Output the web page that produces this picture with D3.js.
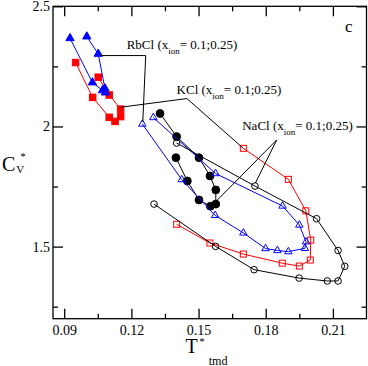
<!DOCTYPE html>
<html>
<head>
<meta charset="utf-8">
<script src="https://cdn.jsdelivr.net/npm/d3@7"></script>
<style>
  body { margin: 0; background: #fff; }
  text { font-family: "Liberation Serif", "Times New Roman", serif; }
</style>
</head>
<body>
<div id="chart"></div>
<script>
// tick values
var xMajor = [0.09, 0.12, 0.15, 0.18, 0.21];
var xMinor = [0.105, 0.135, 0.165, 0.195];
var yMajor = [1.5, 2.0, 2.5];
var yMinor = [1.25, 1.75, 2.25];

// RbCl, filled blue triangles
var rbclFilledT  = [0.0926, 0.1026, 0.1071, 0.1084, 0.1082, 0.1052, 0.1001];
var rbclFilledCv = [2.367, 2.183, 2.150, 2.141, 2.158, 2.302, 2.374];
// KCl, filled red squares
var kclFilledT  = [0.1052, 0.1101, 0.1152, 0.1152, 0.1127, 0.1101, 0.1027, 0.0951];
var kclFilledCv = [2.205, 2.131, 2.072, 2.041, 2.021, 2.038, 2.121, 2.266];
// NaCl, filled black circles
var naclFilledT  = [0.1399, 0.1450, 0.1502, 0.1553, 0.1577, 0.1577, 0.1551, 0.1502, 0.1402, 0.1328];
var naclFilledCv = [1.870, 1.773, 1.694, 1.668, 1.677, 1.736, 1.794, 1.870, 1.958, 2.054];
// RbCl, open blue triangles
var rbclOpenT  = [0.1249, 0.1425, 0.1574, 0.1700, 0.1799, 0.1852, 0.1901, 0.1975, 0.1980, 0.1950, 0.1875, 0.1576, 0.1298];
var rbclOpenCv = [2.010, 1.779, 1.630, 1.557, 1.492, 1.484, 1.479, 1.493, 1.520, 1.590, 1.669, 1.804, 2.037];
// KCl, open red squares
var kclOpenT  = [0.1402, 0.1551, 0.1700, 0.1874, 0.1950, 0.1999, 0.2001, 0.1979, 0.1901, 0.1700];
var kclOpenCv = [1.593, 1.515, 1.469, 1.431, 1.419, 1.444, 1.527, 1.649, 1.780, 1.909];
// NaCl, open black circles
var naclOpenT  = [0.1301, 0.1576, 0.1748, 0.1949, 0.2075, 0.2123, 0.2153, 0.2123, 0.2027, 0.1752, 0.1402];
var naclOpenCv = [1.677, 1.501, 1.404, 1.369, 1.357, 1.357, 1.418, 1.484, 1.616, 1.752, 1.931];

// labels and their leader lines (data coordinates)
var labelSalts = ["RbCl", "KCl", "NaCl"];
var labelAt = [[0.1179, 2.324], [0.1402, 2.134], [0.1695, 1.985]];
var rbclLeader = [[0.1060, 2.295], [0.1264, 2.295], [0.1251, 2.020]];
var kclLeader  = [[0.1152, 2.080], [0.1448, 2.116], [0.1700, 1.909]];
var naclLeaderA = [[0.1849, 1.944], [0.1754, 1.765]];
var naclLeaderB = [[0.1849, 1.944], [0.1582, 1.692]];

var W = 368, H = 366;
var x = d3.scaleLinear().domain([0.085, 0.225]).range([53, 366.5]);
var y = d3.scaleLinear().domain([1.2, 2.5]).range([318.7, 6.3]);

var svg = d3.select("#chart").append("svg")
  .attr("width", W)
  .attr("height", H);

// sets
var sets = [
  {t: kclFilledT,  cv: kclFilledCv,  color: "#ff0000", shape: "square",   filled: true},
  {t: rbclFilledT, cv: rbclFilledCv, color: "#0000ff", shape: "triangle", filled: true},
  {t: naclFilledT, cv: naclFilledCv, color: "#000000", shape: "circle",   filled: true},
  {t: kclOpenT,    cv: kclOpenCv,    color: "#ff0000", shape: "square",   filled: false},
  {t: rbclOpenT,   cv: rbclOpenCv,   color: "#0000ff", shape: "triangle", filled: false},
  {t: naclOpenT,   cv: naclOpenCv,   color: "#000000", shape: "circle",   filled: false}
];

var line = d3.line().x(function(d) { return x(d[0]); }).y(function(d) { return y(d[1]); });

sets.forEach(function(s) {
  var pts = s.t.map(function(t, i) { return [t, s.cv[i]]; });
  svg.append("path")
    .attr("d", line(pts))
    .attr("fill", "none")
    .attr("stroke", s.color)
    .attr("stroke-width", 1);

  var g = svg.append("g");
  pts.forEach(function(p) {
    var cx = x(p[0]), cy = y(p[1]), m;
    if (s.shape === "square") {
      var a = s.filled ? 6.5 : 6;
      m = g.append("rect").attr("x", cx - a / 2).attr("y", cy - a / 2).attr("width", a).attr("height", a);
    } else if (s.shape === "circle") {
      m = g.append("circle").attr("cx", cx).attr("cy", cy).attr("r", s.filled ? 3.9 : 3.3);
    } else {
      m = g.append("path")
        .attr("d", d3.symbol(d3.symbolTriangle, s.filled ? 30 : 24)())
        .attr("transform", "translate(" + cx + "," + cy + ")");
    }
    m.attr("fill", s.filled ? s.color : "none")
     .attr("stroke", s.color)
     .attr("stroke-width", 1);
  });
});

// leader lines
[rbclLeader, kclLeader, naclLeaderA, naclLeaderB].forEach(function(l) {
  svg.append("path")
    .attr("d", line(l))
    .attr("fill", "none")
    .attr("stroke", "#000")
    .attr("stroke-width", 1);
});

// labels
labelSalts.forEach(function(name, i) {
  var t = svg.append("text")
    .attr("x", x(labelAt[i][0]))
    .attr("y", y(labelAt[i][1]))
    .attr("font-size", 13);
  t.append("tspan").text(name + " (x");
  t.append("tspan").attr("font-size", 9).attr("dy", 5).text("ion");
  t.append("tspan").attr("dy", -5).text("= 0.1;0.25)");
});

svg.append("text")
  .attr("x", 345).attr("y", 31.7)
  .attr("font-size", 17)
  .text("c");

// frame
svg.append("rect")
  .attr("x", x(0.085)).attr("y", y(2.5))
  .attr("width", x(0.225) - x(0.085))
  .attr("height", y(1.2) - y(2.5))
  .attr("fill", "none")
  .attr("stroke", "#000")
  .attr("stroke-width", 1.3);

function styleAxis(g) {
  g.select(".domain").remove();
  g.selectAll(".tick line").attr("stroke", "#000").attr("stroke-width", 1.3);
  g.selectAll(".tick text")
    .attr("fill", "#000")
    .attr("font-size", 14)
    .style("font-family", "'Liberation Serif', 'Times New Roman', serif");
}

var bottomY = y(1.2), topY = y(2.5), leftX = x(0.085), rightX = x(0.225);

svg.append("g").attr("transform", "translate(0," + bottomY + ")")
  .call(d3.axisBottom(x).tickValues(xMajor).tickSize(-10).tickPadding(6).tickFormat(d3.format(".2f")))
  .call(styleAxis);
svg.append("g").attr("transform", "translate(0," + bottomY + ")")
  .call(d3.axisBottom(x).tickValues(xMinor).tickSize(-5).tickFormat(""))
  .call(styleAxis);
svg.append("g").attr("transform", "translate(0," + topY + ")")
  .call(d3.axisTop(x).tickValues(xMajor).tickSize(-10).tickFormat(""))
  .call(styleAxis);
svg.append("g").attr("transform", "translate(0," + topY + ")")
  .call(d3.axisTop(x).tickValues(xMinor).tickSize(-5).tickFormat(""))
  .call(styleAxis);

svg.append("g").attr("transform", "translate(" + leftX + ",0)")
  .call(d3.axisLeft(y).tickValues(yMajor).tickSize(-10).tickPadding(3).tickFormat(d3.format("")))
  .call(styleAxis);
svg.append("g").attr("transform", "translate(" + leftX + ",0)")
  .call(d3.axisLeft(y).tickValues(yMinor).tickSize(-5).tickFormat(""))
  .call(styleAxis);
svg.append("g").attr("transform", "translate(" + rightX + ",0)")
  .call(d3.axisRight(y).tickValues(yMajor).tickSize(-10).tickFormat(""))
  .call(styleAxis);
svg.append("g").attr("transform", "translate(" + rightX + ",0)")
  .call(d3.axisRight(y).tickValues(yMinor).tickSize(-5).tickFormat(""))
  .call(styleAxis);

// axis titles
var yTitle = svg.append("text").attr("x", 2).attr("y", 170.5).attr("font-size", 20);
yTitle.append("tspan").text("C");
yTitle.append("tspan").attr("font-size", 11).attr("dx", 1).attr("dy", 2).text("V");
yTitle.append("tspan").attr("font-size", 11).attr("dx", -4).attr("dy", -13).text("*");

var xTitle = svg.append("text").attr("x", 185.5).attr("y", 353).attr("font-size", 20);
xTitle.append("tspan").text("T");
xTitle.append("tspan").attr("font-size", 11).attr("dx", 1.5).attr("dy", -8.5).text("*");
xTitle.append("tspan").attr("font-size", 12).attr("dx", 4).attr("dy", 20).text("tmd");
</script>
</body>
</html>
